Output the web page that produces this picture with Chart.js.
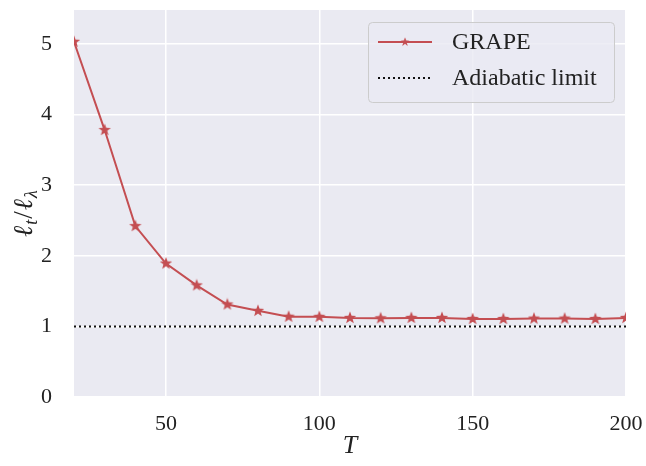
<!DOCTYPE html>
<html>
<head>
<meta charset="utf-8">
<script src="https://cdn.jsdelivr.net/npm/chart.js@4"></script>
<style>
  html, body { margin: 0; padding: 0; background: #ffffff; }
  #wrap { position: relative; width: 646px; height: 466px; }
</style>
</head>
<body>
<div id="wrap"><canvas id="chart" width="646" height="466"></canvas></div>
<script>
// data
const durations = [20, 30, 40, 50, 60, 70, 80, 90, 100, 110, 120, 130, 140, 150, 160, 170, 180, 190, 200];
const grapeRatio = [5.03, 3.78, 2.42, 1.89, 1.58, 1.31, 1.22, 1.137, 1.135, 1.12, 1.115, 1.12, 1.12, 1.105, 1.105, 1.11, 1.11, 1.105, 1.12];
const adiabaticLimit = 1.0;
const xTicks = [50, 100, 150, 200];
const yTicks = [0, 1, 2, 3, 4, 5];

const RED = '#C44E52';
const SERIF = '"Liberation Serif", "DejaVu Serif", serif';

function makeStar(size, color) {
    const c = document.createElement('canvas');
    c.width = size; c.height = size;
    const ctx = c.getContext('2d');
    const cx = size / 2, cy = size / 2, ro = size / 2 - 0.5, ri = ro * 0.42;
    ctx.beginPath();
    for (let i = 0; i < 10; i++) {
        const r = i % 2 === 0 ? ro : ri;
        const a = -Math.PI / 2 + i * Math.PI / 5;
        const px = cx + r * Math.cos(a), py = cy + r * Math.sin(a);
        if (i === 0) ctx.moveTo(px, py); else ctx.lineTo(px, py);
    }
    ctx.closePath();
    ctx.fillStyle = color;
    ctx.fill();
    return c;
}
const star = makeStar(14, RED);

// grey plot background
const bgPlugin = {
    id: 'bg',
    beforeDraw(chart) {
        const a = chart.chartArea, ctx = chart.ctx;
        ctx.save();
        ctx.fillStyle = '#EAEAF2';
        ctx.fillRect(a.left, a.top, a.right - a.left, a.bottom - a.top);
        ctx.restore();
    }
};

// y axis title with subscripts, and matplotlib-like legend box
const extrasPlugin = {
    id: 'extras',
    afterDraw(chart) {
        const ctx = chart.ctx;
        ctx.save();
        // y label
        ctx.translate(24, 213);
        ctx.rotate(-Math.PI / 2);
        ctx.fillStyle = '#222';
        ctx.textBaseline = 'alphabetic';
        const big = 'italic 27px ' + SERIF, small = 'italic 18px ' + SERIF;
        const parts = [['ℓ', big, 0], ['t', small, 5], ['/', '27px ' + SERIF, 0], ['ℓ', big, 0], ['λ', small, 5]];
        let w = 0;
        parts.forEach(p => { ctx.font = p[1]; w += ctx.measureText(p[0]).width + 1; });
        let x = -w / 2;
        parts.forEach(p => {
            ctx.font = p[1];
            ctx.fillText(p[0], x, 8 + p[2]);
            x += ctx.measureText(p[0]).width + 1;
        });
        ctx.restore();

        // legend
        ctx.save();
        const bx = 368, by = 22, bw = 246, bh = 80;
        ctx.beginPath();
        ctx.roundRect(bx + 0.5, by + 0.5, bw, bh, 4);
        ctx.fillStyle = 'rgba(234,234,242,0.8)';
        ctx.fill();
        ctx.strokeStyle = '#cccccc';
        ctx.lineWidth = 1;
        ctx.stroke();
        const rows = [42, 78];
        chart.data.datasets.forEach((ds, i) => {
            const y = rows[i];
            ctx.beginPath();
            ctx.setLineDash(ds.borderDash || []);
            ctx.strokeStyle = ds.borderColor;
            ctx.lineWidth = ds.borderWidth;
            ctx.moveTo(378, y);
            ctx.lineTo(432, y);
            ctx.stroke();
            ctx.setLineDash([]);
            if (ds.pointRadius > 0) ctx.drawImage(star, 405 - 5, y - 5, 10, 10);
            ctx.fillStyle = '#222';
            ctx.font = '24px ' + SERIF;
            ctx.textBaseline = 'middle';
            ctx.fillText(ds.label, 452, y + 1);
        });
        ctx.restore();
    }
};

new Chart(document.getElementById('chart'), {
    type: 'line',
    data: {
        datasets: [{
            label: 'GRAPE',
            data: durations.map((t, i) => ({ x: t, y: grapeRatio[i] })),
            borderColor: RED,
            backgroundColor: RED,
            borderWidth: 2,
            pointStyle: star,
            pointRadius: 6,
            tension: 0
        }, {
            label: 'Adiabatic limit',
            data: [{ x: 20, y: adiabaticLimit }, { x: 200, y: adiabaticLimit }],
            borderColor: '#111111',
            borderWidth: 2,
            borderDash: [2, 3],
            pointRadius: 0
        }]
    },
    options: {
        responsive: false,
        animation: false,
        layout: { padding: { top: 10, right: 20, left: 0, bottom: 0 } },
        plugins: { legend: { display: false }, tooltip: { enabled: false } },
        scales: {
            x: {
                type: 'linear',
                min: 20, max: 200,
                afterBuildTicks: s => { s.ticks = xTicks.map(v => ({ value: v })); },
                afterFit: s => { s.height = 69; s.paddingLeft = 0; s.paddingRight = 0; },
                grid: { color: '#ffffff', lineWidth: 1.5, drawTicks: false },
                border: { display: false },
                ticks: { color: '#222', padding: 14, font: { family: SERIF, size: 22 } },
                title: { display: true, text: 'T', color: '#222', padding: { top: 6 }, font: { family: SERIF, size: 26, style: 'italic' } }
            },
            y: {
                min: 0, max: 5.48,
                afterBuildTicks: s => { s.ticks = yTicks.map(v => ({ value: v })); },
                afterFit: s => { s.width = 74; s.paddingTop = 0; s.paddingBottom = 0; },
                grid: { color: '#ffffff', lineWidth: 1.5, drawTicks: false },
                border: { display: false },
                ticks: { color: '#222', padding: 22, font: { family: SERIF, size: 22 } }
            }
        }
    },
    plugins: [bgPlugin, extrasPlugin]
});
</script>
</body>
</html>
